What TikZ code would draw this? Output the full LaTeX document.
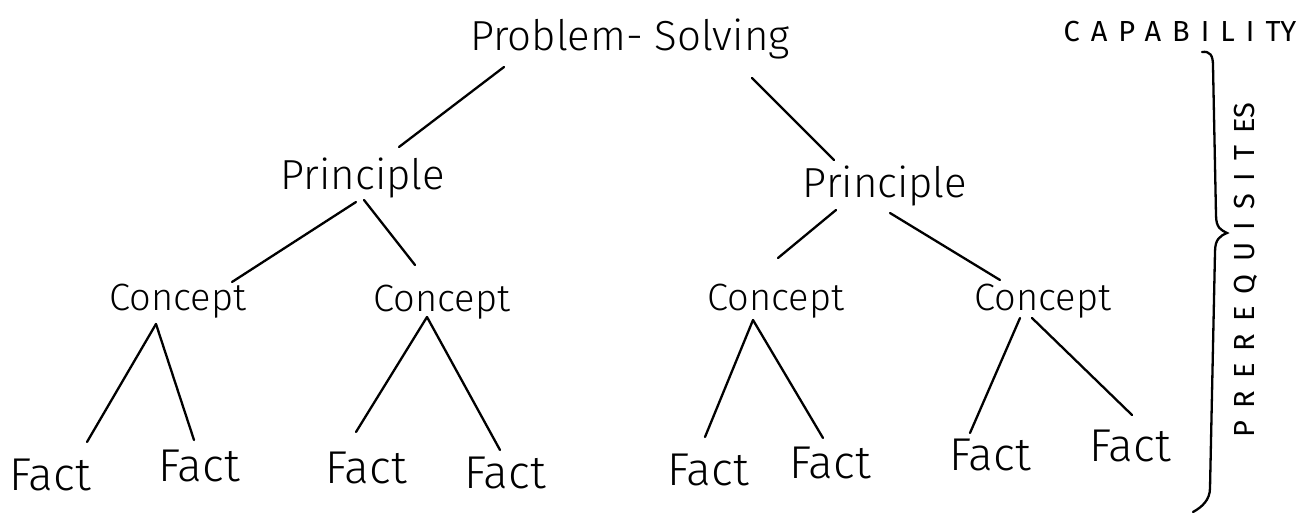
\documentclass[tikz,border=0pt]{standalone}
\usepackage{fontspec}
\setmainfont{Fira Sans}[UprightFont={* Light}]
\newfontfamily\capsfont{Fira Sans}
\usepackage{tikz}

\begin{document}
\begin{tikzpicture}[
  x=1pt, y=-1pt,
  word/.style={inner sep=0pt, anchor=base},
  goal/.style={word, font=\fontsize{42}{50}\selectfont},
  princ/.style={word, font=\fontsize{42}{50}\selectfont},
  conc/.style={word, font=\fontsize{38}{46}\selectfont},
  fact/.style={word, font=\fontsize{46}{54}\selectfont},
  caps/.style={inner sep=0pt, font=\capsfont\fontsize{29}{33}\selectfont},
  edge/.style={line width=2.3pt, line cap=round}
]
\useasboundingbox (0,0) rectangle (1309,513);
\node[goal] (ps) at (630,51) {Problem- Solving};
\node[princ] (pl) at (363,190) {Principle};
\node[princ] (pr) at (885,198) {Principle};
\node[conc] (c1) at (178,310) {Concept};
\node[conc] (c2) at (442,311) {Concept};
\node[conc] (c3) at (776,310) {Concept};
\node[conc] (c4) at (1043,310) {Concept};
\node[fact] (f1) at (50,490) {Fact};
\node[fact] (f2) at (199,481) {Fact};
\node[fact] (f3) at (366,483) {Fact};
\node[fact] (f4) at (505,488) {Fact};
\node[fact] (f5) at (708,485) {Fact};
\node[fact] (f6) at (830,478) {Fact};
\node[fact] (f7) at (990,470) {Fact};
\node[fact] (f8) at (1130,461) {Fact};
\node[caps, anchor=base] (cap) at (1180,42) {\addfontfeature{LetterSpace=38}CAPABILIT\addfontfeature{LetterSpace=0}Y};
\node[caps, rotate=90] (pre) at (1246,270) {\addfontfeature{LetterSpace=42}PREREQUISITE\addfontfeature{LetterSpace=0}S};
\draw[edge] ([shift={(-126,16)}]ps.base) -- ([shift={(36,-43)}]pl.base);
\draw[edge] ([shift={(122,27)}]ps.base) -- ([shift={(-51,-38)}]pr.base);
\draw[edge] ([shift={(-7,12)}]pl.base) -- ([shift={(54,-28)}]c1.base);
\draw[edge] ([shift={(1,10)}]pl.base) -- ([shift={(-27,-46)}]c2.base);
\draw[edge] ([shift={(-49,12)}]pr.base) -- ([shift={(2,-52)}]c3.base);
\draw[edge] ([shift={(5,15)}]pr.base) -- ([shift={(-43,-30)}]c4.base);
\draw[edge] ([shift={(-22,14)}]c1.base) -- ([shift={(37,-48)}]f1.base);
\draw[edge] ([shift={(-22,14)}]c1.base) -- ([shift={(-5,-41)}]f2.base);
\draw[edge] ([shift={(-15,6)}]c2.base) -- ([shift={(-10,-51)}]f3.base);
\draw[edge] ([shift={(-15,6)}]c2.base) -- ([shift={(-5,-38)}]f4.base);
\draw[edge] ([shift={(-23,10)}]c3.base) -- ([shift={(-3,-48)}]f5.base);
\draw[edge] ([shift={(-23,10)}]c3.base) -- ([shift={(-7,-40)}]f6.base);
\draw[edge] ([shift={(-23,8)}]c4.base) -- ([shift={(-20,-37)}]f7.base);
\draw[edge] ([shift={(-11,8)}]c4.base) -- ([shift={(2,-46)}]f8.base);
\draw[edge] (1202,52) .. controls (1210,51) and (1213,55) .. (1213,66)
  -- (1216,215) .. controls (1216,228) and (1221,230) .. (1227,233)
  .. controls (1220,236) and (1215,239) .. (1215,252)
  -- (1210,488) .. controls (1210,500) and (1202,507) .. (1193,512);
\end{tikzpicture}
\end{document}
